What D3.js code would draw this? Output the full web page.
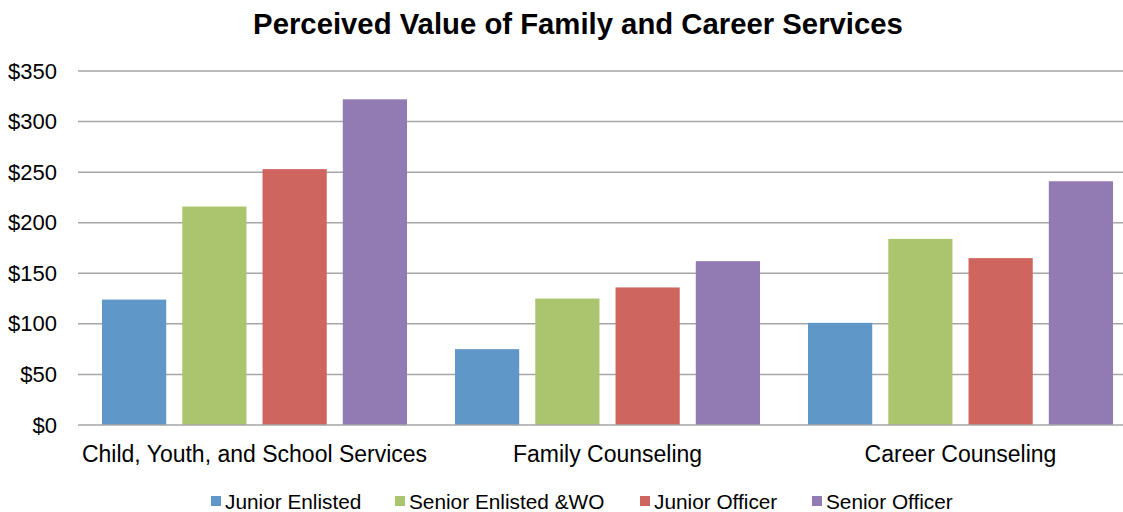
<!DOCTYPE html>
<html><head><meta charset="utf-8">
<script src="https://cdn.jsdelivr.net/npm/d3@7"></script>
<style>body{margin:0;background:#fff}svg{display:block;font-family:"Liberation Sans",Arial,sans-serif}</style>
</head><body><svg id="c" width="1123" height="512"></svg>
<script>
const categories = ["Child, Youth, and School Services", "Family Counseling", "Career Counseling"];
const seriesNames = ["Junior Enlisted", "Senior Enlisted &WO", "Junior Officer", "Senior Officer"];
const juniorEnlisted = [124, 75, 101];
const seniorEnlisted = [216, 125, 184];
const juniorOfficer = [253, 136, 165];
const seniorOfficer = [322, 162, 241];
const tickValues = [0, 50, 100, 150, 200, 250, 300, 350];
const colors = ["#5F97C9", "#AAC56E", "#CE665F", "#927AB3"];

const series = [juniorEnlisted, seniorEnlisted, juniorOfficer, seniorOfficer];
const svg = d3.select("#c");
const mLeft = 78, mRight = 1137, mTop = 71, mBottom = 425;

const x0 = d3.scaleBand().domain(categories).range([mLeft, mRight]).paddingInner(0.136).paddingOuter(0.068);
const x1 = d3.scaleBand().domain(seriesNames).range([0, x0.bandwidth()]).paddingInner(0.2);
const y = d3.scaleLinear().domain([0, 350]).range([mBottom, mTop]);

// gridlines
svg.append("g").selectAll("line").data(tickValues.filter(d => d > 0)).join("line")
  .attr("x1", mLeft).attr("x2", 1123).attr("y1", d => y(d)).attr("y2", d => y(d))
  .attr("stroke", "#a6a6a6").attr("stroke-width", 1.5);

// y axis labels
const yAxis = d3.axisLeft(y).tickValues(tickValues).tickFormat(d => "$" + d).tickSize(0).tickPadding(0);
const ya = svg.append("g").attr("transform", `translate(${mLeft - 21},0)`).call(yAxis);
ya.select(".domain").remove();
ya.selectAll("text").attr("font-size", 22).attr("fill", "#000").attr("font-family", "Liberation Sans, Arial, sans-serif");

// bars
categories.forEach((c, ci) => {
  series.forEach((s, si) => {
    svg.append("rect")
      .attr("x", x0(c) + x1(seriesNames[si]))
      .attr("y", y(s[ci]))
      .attr("width", x1.bandwidth())
      .attr("height", y(0) - y(s[ci]))
      .attr("fill", colors[si]);
  });
});

// x axis
svg.append("line").attr("x1", mLeft).attr("x2", 1123).attr("y1", y(0)).attr("y2", y(0))
  .attr("stroke", "#a6a6a6").attr("stroke-width", 1.5);
const xAxis = d3.axisBottom(x0).tickSize(0).tickPadding(0);
const xa = svg.append("g").attr("transform", `translate(0,${y(0) + 21})`).call(xAxis);
xa.select(".domain").remove();
xa.selectAll("text").attr("font-size", 23).attr("fill", "#000").attr("dy", "0.71em").attr("font-family", "Liberation Sans, Arial, sans-serif");

// title
svg.append("text").attr("x", 578).attr("y", 34).attr("text-anchor", "middle")
  .attr("font-size", 29.3).attr("font-weight", "bold").text("Perceived Value of Family and Career Services");

// legend
const legX = [211, 395, 640, 812];
seriesNames.forEach((n, i) => {
  const g = svg.append("g").attr("transform", `translate(${legX[i]},0)`);
  g.append("rect").attr("x", 0).attr("y", 496).attr("width", 10).attr("height", 10).attr("fill", colors[i]);
  g.append("text").attr("x", 14).attr("y", 509).attr("font-size", 20.8).text(n);
});
</script></body></html>
